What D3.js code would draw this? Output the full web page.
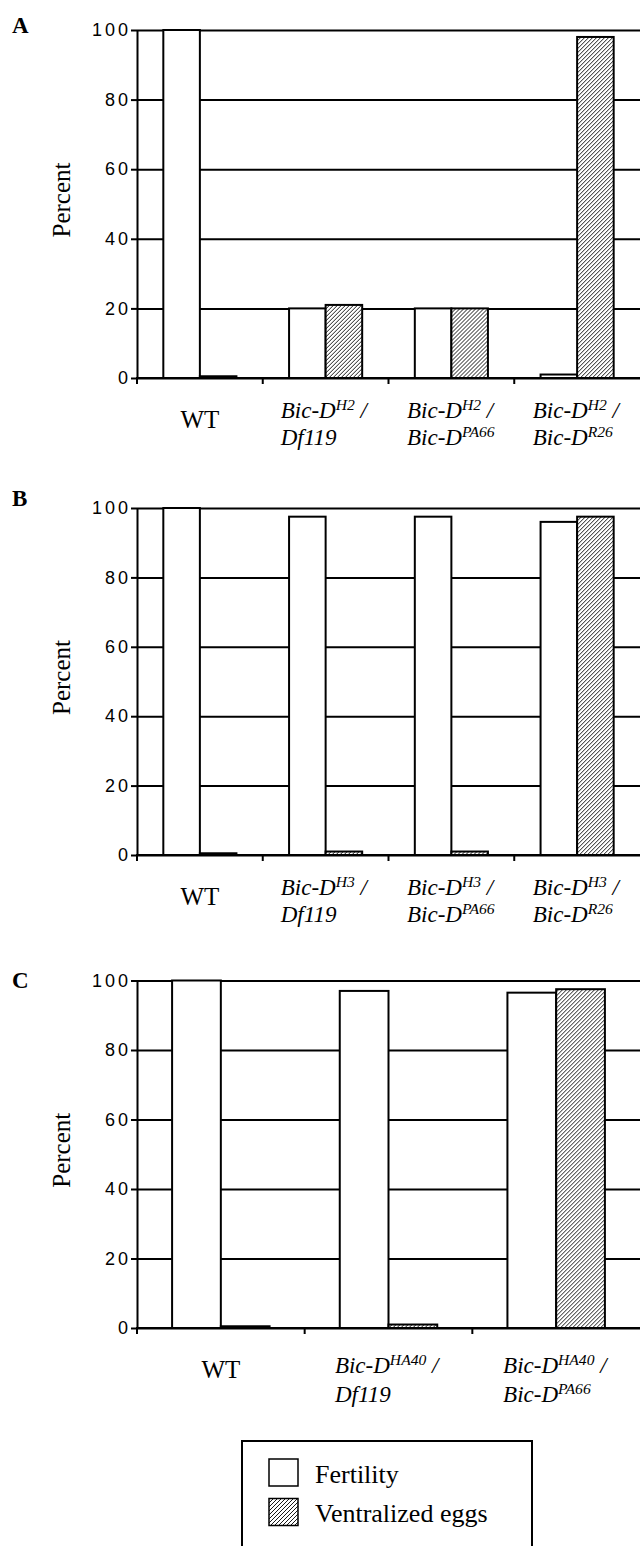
<!DOCTYPE html>
<html>
<head>
<meta charset="utf-8">
<script src="https://d3js.org/d3.v7.min.js"></script>
<style>
  body { margin: 0; background: #fff; }
  svg { display: block; }
</style>
</head>
<body>
<svg id="fig"></svg>
<script>
// ---- data ----
const series = ["Fertility", "Ventralized eggs"];
const yTicks = [0, 20, 40, 60, 80, 100];

const groupsA = ["WT", "H2/Df119", "H2/PA66", "H2/R26"];
const labelsA = [["WT"], ["Bic-D^{H2} /", "Df119"], ["Bic-D^{H2} /", "Bic-D^{PA66}"], ["Bic-D^{H2} /", "Bic-D^{R26}"]];
const fertilityA = [100, 20, 20, 1];
const ventralA = [0.5, 21, 20, 98];

const groupsB = ["WT", "H3/Df119", "H3/PA66", "H3/R26"];
const labelsB = [["WT"], ["Bic-D^{H3} /", "Df119"], ["Bic-D^{H3} /", "Bic-D^{PA66}"], ["Bic-D^{H3} /", "Bic-D^{R26}"]];
const fertilityB = [100, 97.5, 97.5, 96];
const ventralB = [0.5, 1, 1, 97.5];

const groupsC = ["WT", "HA40/Df119", "HA40/PA66"];
const labelsC = [["WT"], ["Bic-D^{HA40} /", "Df119"], ["Bic-D^{HA40} /", "Bic-D^{PA66}"]];
const fertilityC = [100, 97, 96.5];
const ventralC = [0.5, 1, 97.5];

const W = 640, H = 1546;
const serif = "'Liberation Serif', 'Times New Roman', serif";
const sans = "'Liberation Sans', Arial, sans-serif";

const svg = d3.select("#fig").attr("width", W).attr("height", H);

// hatch pattern for ventralized eggs
const defs = svg.append("defs");
const pat = defs.append("pattern")
    .attr("id", "hatch")
    .attr("patternUnits", "userSpaceOnUse")
    .attr("width", 4).attr("height", 4);
pat.append("rect").attr("width", 4).attr("height", 4).attr("fill", "#fff");
pat.append("path")
    .attr("d", "M-1,1 l2,-2 M0,4 l4,-4 M3,5 l2,-2")
    .attr("stroke", "#000").attr("stroke-width", 0.9);

// writes "Bic-D^{H2} /" as tspans with a superscript
function addRich(text, str, size) {
    const parts = str.split(/\^\{([^}]*)\}/);
    parts.forEach((p, i) => {
        if (!p) return;
        const t = text.append("tspan").text(p);
        if (i % 2 === 1) t.attr("font-size", size * 0.68).attr("dy", -size * 0.36);
        else if (i > 0) t.attr("dy", size * 0.36);
    });
}

function drawPanel(cfg) {
    const g = svg.append("g");

    const x = d3.scaleBand().domain(cfg.groups).range([cfg.left, cfg.right]);
    const xs = d3.scaleBand().domain(series).range([0, x.bandwidth()]).paddingOuter(0.72);
    const y = d3.scaleLinear().domain([0, 100]).range([cfg.bottom, cfg.top]);

    // gridlines (behind bars)
    g.append("g")
        .attr("transform", `translate(${cfg.left},0)`)
        .call(d3.axisLeft(y).tickValues(yTicks).tickSize(-(cfg.right - cfg.left)).tickFormat(""))
        .call(a => a.select(".domain").remove())
        .selectAll("line").attr("stroke", "#000").attr("stroke-width", 2);

    // bars
    const rows = cfg.groups.map((k, i) => ({ group: k, values: [cfg.fert[i], cfg.vent[i]] }));
    g.selectAll("g.grp")
        .data(rows)
        .join("g")
        .attr("class", "grp")
        .attr("transform", d => `translate(${x(d.group)},0)`)
        .selectAll("rect")
        .data(d => series.map((s, j) => ({ s: s, v: d.values[j] })))
        .join("rect")
        .attr("x", d => xs(d.s))
        .attr("width", xs.bandwidth())
        .attr("y", d => y(d.v))
        .attr("height", d => cfg.bottom - y(d.v))
        .attr("fill", d => d.s === series[0] ? "#fff" : "url(#hatch)")
        .attr("stroke", "#000")
        .attr("stroke-width", 2);

    // y axis
    const yAxis = g.append("g")
        .attr("transform", `translate(${cfg.left},0)`)
        .call(d3.axisLeft(y).tickValues(yTicks).tickSize(6).tickSizeOuter(0).tickPadding(0));
    yAxis.selectAll("line, path").attr("stroke", "#000").attr("stroke-width", 2);
    yAxis.selectAll("text")
        .attr("font-family", sans)
        .attr("font-size", 18)
        .attr("letter-spacing", 3)
        .attr("fill", "#000");

    // x axis line and boundary ticks
    g.append("line")
        .attr("x1", cfg.left - 1).attr("x2", cfg.right)
        .attr("y1", cfg.bottom).attr("y2", cfg.bottom)
        .attr("stroke", "#000").attr("stroke-width", 2);
    g.selectAll("line.xtick")
        .data(cfg.groups)
        .join("line")
        .attr("class", "xtick")
        .attr("x1", d => x(d)).attr("x2", d => x(d))
        .attr("y1", cfg.bottom).attr("y2", cfg.bottom + 6)
        .attr("stroke", "#000").attr("stroke-width", 2);

    // category labels
    cfg.groups.forEach((k, i) => {
        const lines = cfg.labels[i];
        const lg = g.append("g");
        lines.forEach((ln, j) => {
            const single = lines.length === 1;
            const size = single ? 25 : 23;
            const t = lg.append("text")
                .attr("x", 0)
                .attr("y", cfg.bottom + (single ? cfg.singleY : cfg.lineY[j]))
                .attr("font-family", serif)
                .attr("font-size", size)
                .attr("font-style", single ? "normal" : "italic")
                .attr("fill", "#000");
            addRich(t, ln, size);
        });
        const w = lg.node().getBBox().width;
        lg.attr("transform", `translate(${x(k) + x.bandwidth() / 2 - w / 2},0)`);
    });

    // y title
    g.append("text")
        .attr("transform", `translate(70,${(cfg.top + cfg.bottom) / 2 - 4}) rotate(-90)`)
        .attr("text-anchor", "middle")
        .attr("font-family", serif)
        .attr("font-size", 25)
        .text("Percent");

    // panel letter
    g.append("text")
        .attr("x", 12).attr("y", cfg.letterY)
        .attr("font-family", serif)
        .attr("font-weight", "bold")
        .attr("font-size", 23)
        .text(cfg.letter);
}

drawPanel({ letter: "A", letterY: 33, groups: groupsA, labels: labelsA, fert: fertilityA, vent: ventralA,
    left: 137, right: 640, top: 30, bottom: 378, singleY: 50, lineY: [40, 67] });
drawPanel({ letter: "B", letterY: 506, groups: groupsB, labels: labelsB, fert: fertilityB, vent: ventralB,
    left: 137, right: 640, top: 508, bottom: 855, singleY: 50, lineY: [40, 67] });
drawPanel({ letter: "C", letterY: 988, groups: groupsC, labels: labelsC, fert: fertilityC, vent: ventralC,
    left: 137, right: 640, top: 980.5, bottom: 1328, singleY: 50, lineY: [45, 74] });

// legend
const legend = svg.append("g");
legend.append("rect")
    .attr("x", 242).attr("y", 1441).attr("width", 290).attr("height", 130)
    .attr("fill", "none").attr("stroke", "#000").attr("stroke-width", 2);
legend.selectAll("rect.sw")
    .data(series)
    .join("rect")
    .attr("class", "sw")
    .attr("x", 269)
    .attr("y", (d, i) => 1459 + i * 39.5)
    .attr("width", 29).attr("height", 27)
    .attr("fill", (d, i) => i === 0 ? "#fff" : "url(#hatch)")
    .attr("stroke", "#000").attr("stroke-width", 1.5);
legend.selectAll("text")
    .data(series)
    .join("text")
    .attr("x", 315)
    .attr("y", (d, i) => 1483 + i * 39)
    .attr("font-family", serif)
    .attr("font-size", 26)
    .text(d => d);
</script>
</body>
</html>
